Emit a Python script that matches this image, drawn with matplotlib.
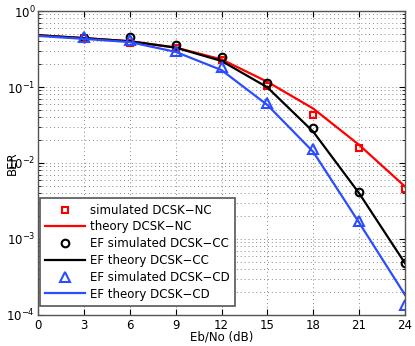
import matplotlib
matplotlib.use("Agg")
import matplotlib.pyplot as plt
from matplotlib.ticker import LogLocator, NullFormatter

plt.rcParams['font.family'] = ['DejaVu Sans']
plt.rcParams['font.size'] = 8.5
plt.rcParams['mathtext.fontset'] = 'dejavusans'

ebno = [0, 3, 6, 9, 12, 15, 18, 21, 24]
ebno_sim = [3, 6, 9, 12, 15, 18, 21, 24]

# simulated / theory BER
sim_nc = [0.44, 0.375, 0.33, 0.23, 0.103, 0.043, 0.0156, 0.0045]
theory_nc = [0.48, 0.44, 0.40, 0.33, 0.231, 0.117, 0.052, 0.0173, 0.0049]
sim_cc = [0.435, 0.45, 0.355, 0.245, 0.112, 0.029, 0.0042, 0.00048]
theory_cc = [0.48, 0.44, 0.40, 0.33, 0.22, 0.099, 0.0258, 0.0040, 0.00048]
sim_cd = [0.45, 0.41, 0.30, 0.185, 0.061, 0.0153, 0.0017, 0.000135]
theory_cd = [0.47, 0.43, 0.39, 0.29, 0.167, 0.058, 0.014, 0.00164, 0.000184]

blue = '#2b4cff'

fig = plt.figure(figsize=(4.15, 3.46), dpi=100)
ax = fig.add_axes([38/415, 1-315/346, 367/415, 304/346])

ax.semilogy(ebno_sim, sim_nc, 's', color='red', mfc='none', mew=1.5, ms=5,
            label='simulated DCSK\u2212NC')
ax.semilogy(ebno, theory_nc, '-', color='red', lw=1.6, label='theory DCSK\u2212NC')
ax.semilogy(ebno_sim, sim_cc, 'o', color='black', mfc='none', mew=1.5, ms=5.5,
            label='EF simulated DCSK\u2212CC')
ax.semilogy(ebno, theory_cc, '-', color='black', lw=1.6, label='EF theory DCSK\u2212CC')
ax.semilogy(ebno_sim, sim_cd, '^', color=blue, mfc='none', mew=1.5, ms=6.5,
            label='EF simulated DCSK\u2212CD')
ax.semilogy(ebno, theory_cd, '-', color=blue, lw=1.6, label='EF theory DCSK\u2212CD')

ax.set_xlim(0, 24)
ax.set_ylim(1e-4, 1)
ax.set_xticks(ebno)
ax.yaxis.set_major_locator(LogLocator(base=10, numticks=10))
ax.yaxis.set_minor_locator(LogLocator(base=10, subs=range(2, 10), numticks=10))
ax.yaxis.set_minor_formatter(NullFormatter())

ax.tick_params(which='both', direction='in', top=True, right=True)
ax.tick_params(which='major', length=4)
ax.tick_params(which='minor', length=2)
ax.tick_params(axis='x', pad=3)
ax.tick_params(axis='y', pad=2)
for s in ax.spines.values():
    s.set_color('#555555')
    s.set_linewidth(1.0)

ax.grid(True, which='major', linestyle=(0, (1, 3)), color='#888888', lw=0.7)
ax.grid(True, which='minor', axis='y', linestyle=(0, (1, 3)), color='#888888', lw=0.7)

ax.set_xlabel('Eb/No (dB)', labelpad=-1)
ax.set_ylabel('BER', labelpad=-9)

leg = ax.legend(loc='lower left', bbox_to_anchor=(0.005, 0.03), fancybox=False,
                framealpha=1, edgecolor='#555555', borderaxespad=0, handlelength=3.4,
                handletextpad=0.4, labelspacing=0.32, borderpad=0.45)
leg.get_frame().set_linewidth(1.2)

fig.savefig('out.png', dpi=100)
